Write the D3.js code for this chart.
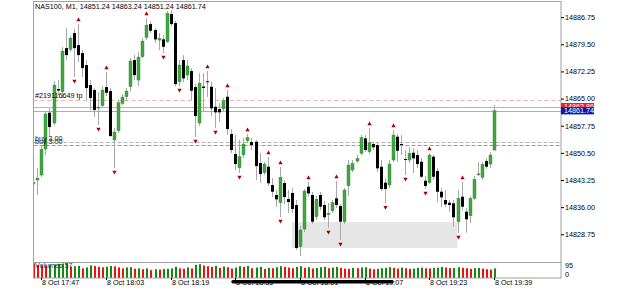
<!DOCTYPE html>
<html>
<head>
<meta charset="utf-8">
<script src="https://cdn.jsdelivr.net/npm/d3@7"></script>
<style>
  html, body { margin: 0; padding: 0; background: #fff; }
  svg text { font-family: "Liberation Sans", Arial, sans-serif; font-size: 7.2px; }
</style>
</head>
<body>
<svg id="chart" width="625" height="289"></svg>
<script>
// NAS100 M1, 8 Oct 17:45 .. 19:39, one bar per minute
const symbol = 'NAS100, M1'
const firstBar = new Date(2021, 9, 8, 17, 45)

const opens = [
  14842.18, 14843.25, 14844.58, 14851.52, 14861.22, 14858.47, 14867.55, 14866.82, 14878.49, 14878.15,
  14882.50, 14879.29, 14877.16, 14873.95, 14868.61, 14867.28, 14862.47, 14863.09, 14868.08, 14867.01,
  14853.93, 14856.41, 14863.73, 14865.49, 14868.16, 14875.29, 14869.95, 14876.17, 14881.35, 14884.90,
  14883.30, 14880.63, 14880.82, 14880.18, 14887.57, 14885.17, 14869.49, 14875.29, 14871.28, 14872.35,
  14868.08, 14858.47, 14868.21, 14869.63, 14868.16, 14862.82, 14862.20, 14862.28, 14865.49, 14855.53,
  14850.19, 14846.53, 14850.00, 14853.74, 14853.39, 14853.47, 14847.79, 14845.20, 14846.80, 14841.91,
  14839.24, 14837.19, 14842.45, 14838.17, 14839.78, 14836.57, 14825.44, 14830.16, 14841.46, 14839.24,
  14833.45, 14839.24, 14836.57, 14833.98, 14835.05, 14838.36, 14836.30, 14832.11, 14841.72, 14845.92,
  14848.32, 14850.38, 14854.38, 14850.80, 14852.86, 14852.59, 14846.80, 14842.53, 14841.91, 14848.59,
  14854.81, 14852.86, 14848.85, 14848.59, 14850.54, 14849.92, 14848.13, 14843.06, 14842.53, 14849.47,
  14845.65, 14840.12, 14837.91, 14837.19, 14837.02, 14832.11, 14838.79, 14834.78, 14833.71, 14838.36,
  14844.71, 14843.97, 14848.32, 14847.52, 14851.24
]
const highs = [
  14842.98, 14846.45, 14852.33, 14861.40, 14862.47, 14869.68, 14869.95, 14878.76, 14883.83, 14881.70,
  14883.57, 14884.90, 14877.96, 14875.29, 14869.95, 14867.81, 14866.74, 14868.35, 14872.08, 14867.81,
  14857.13, 14864.61, 14866.21, 14867.81, 14875.82, 14876.62, 14877.42, 14881.16, 14886.50, 14885.70,
  14883.83, 14882.50, 14881.96, 14888.37, 14888.64, 14885.70, 14875.29, 14876.62, 14875.29, 14873.15,
  14868.88, 14871.82, 14871.82, 14872.35, 14869.49, 14867.81, 14863.81, 14865.14, 14867.28, 14856.86,
  14855.26, 14853.93, 14854.46, 14855.53, 14854.46, 14853.93, 14850.46, 14848.05, 14849.39, 14843.78,
  14840.58, 14846.72, 14843.25, 14840.58, 14841.11, 14837.91, 14830.96, 14840.84, 14842.71, 14840.04,
  14838.97, 14840.04, 14837.64, 14837.11, 14837.91, 14842.98, 14836.84, 14841.11, 14848.59, 14848.59,
  14849.92, 14855.26, 14855.26, 14857.13, 14853.39, 14853.13, 14848.59, 14843.78, 14848.59, 14856.60,
  14855.53, 14855.26, 14851.26, 14852.06, 14851.79, 14851.26, 14849.12, 14844.31, 14850.46, 14849.92,
  14846.45, 14841.11, 14840.58, 14837.91, 14837.91, 14840.58, 14842.71, 14835.77, 14838.97, 14844.31,
  14848.05, 14848.05, 14849.12, 14850.72, 14863.24
]
const lows = [
  14841.64, 14839.24, 14844.05, 14849.92, 14854.81, 14857.93, 14865.94, 14865.14, 14875.29, 14877.42,
  14870.75, 14874.75, 14870.75, 14864.61, 14861.94, 14860.07, 14857.93, 14862.47, 14865.68, 14854.73,
  14846.45, 14855.80, 14863.27, 14864.34, 14866.82, 14869.95, 14868.35, 14875.82, 14880.63, 14882.50,
  14879.83, 14877.96, 14877.16, 14879.83, 14884.37, 14868.35, 14868.35, 14869.41, 14869.95, 14864.61,
  14854.73, 14857.67, 14861.40, 14865.41, 14860.34, 14857.13, 14858.73, 14861.40, 14855.26, 14850.46,
  14845.92, 14845.12, 14849.12, 14853.13, 14851.26, 14843.25, 14842.45, 14844.58, 14841.64, 14838.71,
  14836.04, 14833.37, 14836.84, 14834.43, 14834.43, 14824.56, 14822.95, 14829.36, 14838.97, 14831.50,
  14832.57, 14835.24, 14832.57, 14830.43, 14834.43, 14835.77, 14827.23, 14831.50, 14838.97, 14845.38,
  14847.79, 14849.92, 14850.72, 14850.19, 14851.26, 14845.38, 14840.31, 14837.02, 14841.11, 14848.05,
  14848.05, 14849.92, 14844.58, 14847.79, 14845.12, 14846.45, 14843.78, 14840.84, 14842.18, 14843.25,
  14837.37, 14836.04, 14836.04, 14834.70, 14830.70, 14829.09, 14835.24, 14829.17, 14831.76, 14837.91,
  14844.31, 14843.25, 14846.18, 14846.45, 14851.24
]
const closes = [
  14842.58, 14843.78, 14851.44, 14860.87, 14857.40, 14868.61, 14867.14, 14877.69, 14876.62, 14881.16,
  14878.49, 14876.62, 14873.15, 14867.81, 14865.14, 14861.94, 14862.74, 14867.28, 14866.56, 14855.00,
  14856.06, 14863.89, 14865.41, 14867.01, 14875.02, 14871.28, 14876.09, 14880.36, 14884.63, 14883.11,
  14880.82, 14881.08, 14878.84, 14887.76, 14884.90, 14868.88, 14873.95, 14870.40, 14873.69, 14867.09,
  14860.34, 14869.15, 14867.81, 14869.36, 14862.39, 14861.32, 14861.32, 14864.42, 14856.86, 14851.26,
  14847.52, 14849.47, 14852.86, 14854.54, 14852.59, 14846.98, 14844.85, 14847.52, 14842.37, 14840.12,
  14838.09, 14843.97, 14838.71, 14837.37, 14835.50, 14825.09, 14829.90, 14840.31, 14839.69, 14832.11,
  14838.09, 14836.12, 14833.29, 14834.35, 14837.19, 14836.57, 14832.11, 14840.58, 14847.25, 14847.71,
  14849.04, 14854.54, 14851.26, 14853.21, 14851.98, 14846.37, 14840.84, 14840.84, 14847.52, 14855.26,
  14851.07, 14852.59, 14848.67, 14850.38, 14849.04, 14847.52, 14844.13, 14841.64, 14849.92, 14844.13,
  14840.12, 14838.63, 14836.76, 14836.57, 14833.29, 14838.36, 14836.12, 14832.75, 14838.36, 14843.43,
  14844.90, 14847.44, 14846.80, 14849.92, 14861.74
]
const volumes = [
  87, 77, 76, 75, 78, 80, 84, 86, 88, 67, 70, 72, 57, 63, 75, 71, 67, 63, 67, 71,
  69, 63, 57, 63, 64, 55, 57, 52, 57, 47, 52, 50, 53, 55, 57, 67, 57, 55, 63, 57,
  78, 82, 74, 70, 66, 72, 60, 68, 64, 56, 62, 70, 66, 72, 58, 62, 66, 54, 60, 58,
  64, 70, 66, 62, 58, 66, 70, 60, 64, 56, 60, 64, 66, 58, 62, 66, 60, 56, 54, 60,
  58, 62, 64, 56, 52, 54, 58, 60, 64, 60, 56, 62, 58, 54, 56, 60, 62, 58, 56, 60,
  62, 66, 62, 58, 60, 64, 60, 58, 54, 58, 60, 56, 52, 50, 57
]

// fractal bars (index into the bar list)
const upFractals = [11, 18, 28, 43, 48, 53, 58, 61, 68, 75, 83, 89, 98, 106]
const downFractals = [10, 16, 20, 32, 36, 40, 45, 51, 61, 73, 76, 87, 92, 97, 105]

const priceTicks = [14828.75, 14836.00, 14843.25, 14850.50, 14857.75, 14865.00, 14872.25, 14879.50, 14886.75]
const volumeTicks = [0, 95]
const timeTickEvery = 16
const timeTickFirst = 2

const tpLabel = '#219116649 tp'
const tpPrice = 14864.75
const buyLabel = 'buy 3.00'
const buyPrices = [14853.30, 14852.60]
const askPrice = 14862.86
const bidPrice = 14861.74
const zoneFrom = 64, zoneTo = 105
const zonePrices = [14832.0, 14825.1]

const svg = d3.select('#chart')
const pLeft = 33.5, pRight = 561, pTop = 2, mainBottom = 262, volBottom = 278

const bars = opens.map((o, i) => ({
  i, time: d3.timeMinute.offset(firstBar, i),
  open: o, high: highs[i], low: lows[i], close: closes[i], volume: volumes[i]
}))

const x = d3.scalePoint()
  .domain(d3.range(bars.length))
  .range([33.3, 33.3 + 4.04 * (bars.length - 1)])
const y = d3.scaleLinear().domain([14821.35, 14890.8]).range([mainBottom, pTop])
const yv = d3.scaleLinear().domain([0, 95]).range([volBottom, mainBottom])
const px = i => Math.round(x(i))

svg.append('rect').attr('width', 625).attr('height', 289).attr('fill', '#fff')

svg.append('defs').append('clipPath').attr('id', 'plotClip')
  .append('rect').attr('x', pLeft).attr('y', pTop).attr('width', pRight - pLeft).attr('height', mainBottom - pTop)

const plot = svg.append('g').attr('clip-path', 'url(#plotClip)')

// grey zone rectangle
plot.append('rect')
  .attr('x', x(zoneFrom)).attr('width', x(zoneTo) - x(zoneFrom))
  .attr('y', y(zonePrices[0])).attr('height', y(zonePrices[1]) - y(zonePrices[0]))
  .attr('fill', '#e6e6e6')

// order / price lines
const hline = (price, color, dash) => plot.append('line')
  .attr('x1', pLeft).attr('x2', pRight)
  .attr('y1', Math.round(y(price)) + 0.5).attr('y2', Math.round(y(price)) + 0.5)
  .attr('stroke', color).attr('stroke-width', 1)
  .attr('stroke-dasharray', dash)
hline(tpPrice, '#f2b0a8', '4,3')
hline(askPrice, '#f0a0a0', null)
hline(bidPrice, '#a8a8d8', null)
hline(buyPrices[0], '#b4b4b4', '4,2')
hline(buyPrices[1], '#999', '4,2')

// candles
const candle = plot.selectAll('g.bar').data(bars).join('g').attr('class', 'bar')
candle.append('line')
  .attr('x1', d => px(d.i) + 0.5).attr('x2', d => px(d.i) + 0.5)
  .attr('y1', d => y(d.high)).attr('y2', d => y(d.low))
  .attr('stroke', '#a8a8a8').attr('stroke-width', 1)
candle.append('rect')
  .attr('x', d => px(d.i) - 1).attr('width', 3)
  .attr('y', d => y(Math.max(d.open, d.close)))
  .attr('height', d => Math.max(1, Math.abs(y(d.open) - y(d.close))))
  .attr('fill', d => d.close >= d.open ? '#3fa83f' : '#000')
  .attr('stroke', d => d.close >= d.open ? '#2d7d2d' : 'none')
  .attr('stroke-width', 0.4)

// fractal arrows
const arrow = d3.symbol(d3.symbolTriangle, 8)
plot.selectAll('path.up').data(upFractals).join('path').attr('class', 'up')
  .attr('d', arrow)
  .attr('transform', i => `translate(${px(i) + 0.5},${y(highs[i]) - 4})`)
  .attr('fill', '#a80000')
plot.selectAll('path.dn').data(downFractals).join('path').attr('class', 'dn')
  .attr('d', arrow)
  .attr('transform', i => `translate(${px(i) + 0.5},${y(lows[i]) + 4}) rotate(180)`)
  .attr('fill', '#a80000')

// volumes
svg.append('g').selectAll('rect').data(bars).join('rect')
  .attr('x', d => px(d.i)).attr('width', 2)
  .attr('y', d => yv(d.volume)).attr('height', d => volBottom - yv(d.volume))
  .attr('fill', d => d.i > 0 && d.volume > volumes[d.i - 1] ? '#108a10' : '#f01010')

// frame
const frame = svg.append('g').attr('stroke', '#a0a0a0').attr('stroke-width', 1).attr('fill', 'none')
frame.append('rect').attr('x', pLeft).attr('y', pTop - 0.5).attr('width', pRight - pLeft).attr('height', volBottom - pTop + 0.5)
frame.append('line').attr('x1', pLeft).attr('x2', pRight).attr('y1', mainBottom + 0.5).attr('y2', mainBottom + 0.5)

// texts inside plot
const last = bars[bars.length - 1]
const f2 = d3.format('.2f')
svg.append('text').attr('x', 35).attr('y', 9)
  .text(`${symbol}, ${f2(last.open)} ${f2(last.high)} ${f2(last.low)} ${f2(last.close)}`)
svg.append('text').attr('x', 35).attr('y', y(tpPrice) - 1.5).text(tpLabel)
buyPrices.forEach(p => svg.append('text').attr('x', 35).attr('y', y(p) - 1).attr('fill', '#222').text(buyLabel))
svg.append('text').attr('x', 35).attr('y', 267.5).attr('fill', '#333').text(`Volumes ${last.volume}`)

// price axis
const pAxis = svg.append('g').attr('transform', `translate(${pRight},0)`)
  .call(d3.axisRight(y).tickValues(priceTicks).tickSize(3).tickPadding(1).tickFormat(f2))
pAxis.select('.domain').remove()
pAxis.selectAll('text').attr('font-size', 7.2).attr('fill', '#000')

// volume axis
const vAxis = svg.append('g').attr('transform', `translate(${pRight},0)`)
vAxis.selectAll('text').data(volumeTicks).join('text')
  .attr('x', 4).attr('y', d => d === 0 ? 277 : yv(d) + 6.3).text(d => d)

// ask / bid boxes
const priceBox = (price, bg) => {
  const g = svg.append('g').attr('transform', `translate(${pRight},${y(price)})`)
  g.append('rect').attr('x', 0).attr('y', -3.6).attr('width', 33).attr('height', 7.2).attr('fill', bg)
  g.append('text').attr('x', 3).attr('y', 2.6).attr('fill', '#fff').text(f2(price))
}
priceBox(askPrice, '#ee2020')
priceBox(bidPrice, '#0a1aa8')

// time axis
const tickIdx = d3.range(timeTickFirst, bars.length, timeTickEvery)
const tFmt = d3.timeFormat('%-d %b %H:%M')
const tAxis = svg.append('g').attr('transform', `translate(0,${volBottom})`)
  .call(d3.axisBottom(x).tickValues(tickIdx).tickSize(2).tickFormat(i => tFmt(bars[i].time)))
tAxis.select('.domain').remove()
tAxis.selectAll('.tick').attr('transform', i => `translate(${px(i) + 0.5},0)`)
tAxis.selectAll('text').attr('text-anchor', 'start').attr('x', 0.5).attr('y', 1.5).attr('dy', '0.71em')
  .attr('font-size', 7.2).attr('fill', '#000')

// black scroll mark over the middle labels
svg.append('line').attr('x1', 233).attr('x2', 392).attr('y1', 281.8).attr('y2', 281.8)
  .attr('stroke', '#000').attr('stroke-width', 3.4).attr('stroke-linecap', 'round')
</script>
</body>
</html>
